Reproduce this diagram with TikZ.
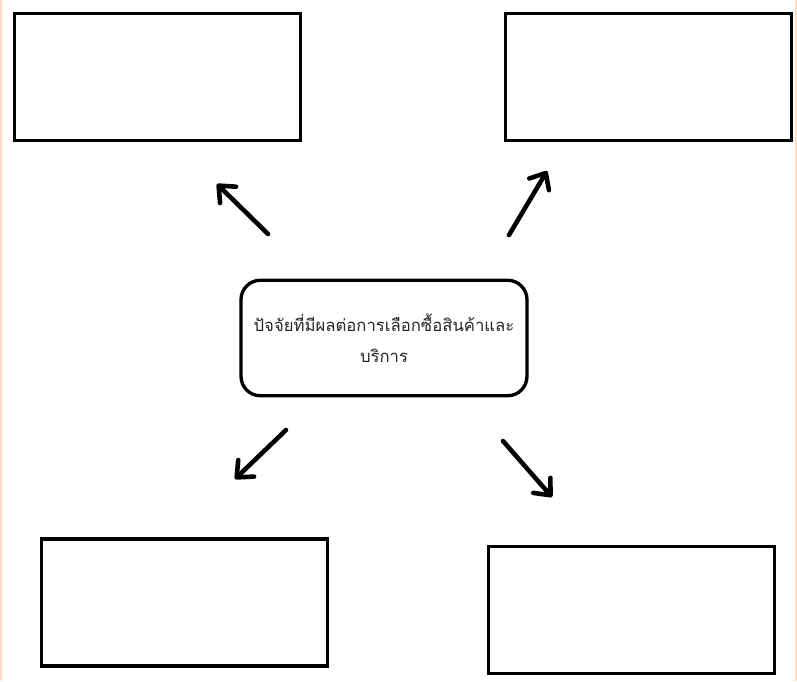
\documentclass[tikz,border=0pt]{standalone}
\usepackage{fontspec}
\newfontfamily\thaifont[Script=Thai]{Loma}
\usetikzlibrary{arrows.meta}

\begin{document}
\begin{tikzpicture}[x=0.02cm, y=-0.02cm,
        leer/.style={draw, line width=1.9pt, minimum width=5.72cm, minimum height=2.54cm, inner sep=0pt},
        pfeil/.style={line width=2.6pt, line cap=round, -{Straight Barb[length=7.5pt, width=13pt, line cap=round, line join=round]}}]
            \useasboundingbox (0,0) rectangle (797,681);
            \fill[white] (0,0) rectangle (797,681);
            \draw[orange!25, line width=0.6pt] (1,0) -- (1,681);
            \draw[orange!25, line width=0.6pt] (796,0) -- (796,681);

            % Mitte:
            \node (mitte) at (384,338)[draw, line width=1.9pt, rounded corners=11pt, minimum width=5.72cm, minimum height=2.31cm, align=center, font=\thaifont\fontsize{9.5}{18}\selectfont, text=black!85]{ปัจจัยที่มีผลต่อการเลือกซื้อสินค้าและ\\บริการ};

            % leere Kaesten:
            \node (boxtl) at (157.5,77)[leer]{};
            \node (boxtr) at (648.5,77)[leer]{};
            \node (boxbl) at (184.5,602.5)[leer]{};
            \node (boxbr) at (631.5,610)[leer]{};

            % Pfeile:
            \coordinate (tl-a) at (268,234);
            \coordinate (tl-b) at (217,184);
            \coordinate (tr-a) at (509,235);
            \coordinate (tr-b) at (547,171);
            \coordinate (bl-a) at (286,430);
            \coordinate (bl-b) at (235,479);
            \coordinate (br-a) at (503,441);
            \coordinate (br-b) at (552,497);
            \draw[pfeil] (tl-a) -- (tl-b);
            \draw[pfeil] (tr-a) -- (tr-b);
            \draw[pfeil] (bl-a) -- (bl-b);
            \draw[pfeil] (br-a) -- (br-b);
      \end{tikzpicture}
\end{document}
